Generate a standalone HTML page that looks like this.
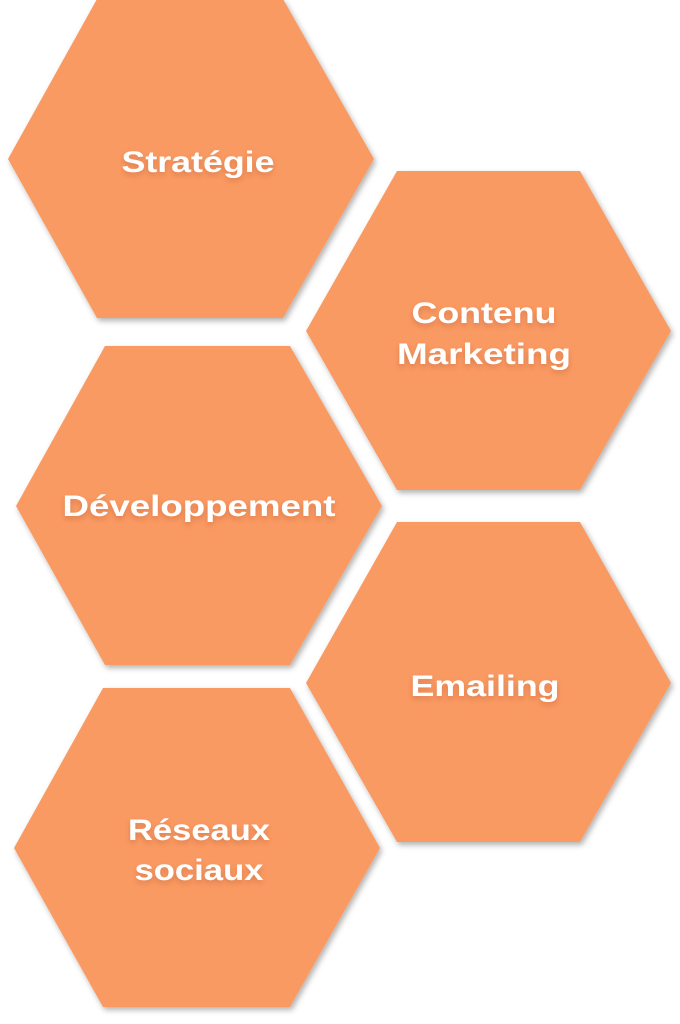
<!DOCTYPE html>
<html><head><meta charset="utf-8"><style>
html,body{margin:0;padding:0;background:#fff;width:680px;height:1024px;overflow:hidden}
svg text{font-family:"Liberation Sans",sans-serif;font-weight:bold;font-size:30px;fill:#fff;text-anchor:middle}
</style></head><body>
<svg width="680" height="1024" viewBox="0 0 680 1024" xmlns="http://www.w3.org/2000/svg">
<defs>
<filter id="s" x="-10%" y="-10%" width="120%" height="120%"><feDropShadow dx="2" dy="3" stdDeviation="3" flood-color="#000" flood-opacity="0.3"/></filter>
<filter id="t" x="-10%" y="-30%" width="120%" height="160%"><feDropShadow dx="0" dy="3" stdDeviation="3" flood-color="#b05020" flood-opacity="0.4"/></filter>
</defs>
<g fill="#FA9A63" filter="url(#s)">
<polygon points="97,-1 283,-1 374,159 283,318 97,318 8,159"/>
<polygon points="397,171 580,171 671,331 580,490 397,490 306,331"/>
<polygon points="105,346 290,346 382,506 290,665 105,665 16,506"/>
<polygon points="397,522 580,522 671,683 580,842 397,842 306,683"/>
<polygon points="103,688 290,688 380,848 290,1007 103,1007 14,848"/>
</g>
<g filter="url(#t)">
<text x="198" y="172" textLength="153" lengthAdjust="spacingAndGlyphs">Stratégie</text>
<text x="484" y="323" textLength="145" lengthAdjust="spacingAndGlyphs">Contenu</text>
<text x="484" y="364" textLength="174" lengthAdjust="spacingAndGlyphs">Marketing</text>
<text x="199" y="516" textLength="273" lengthAdjust="spacingAndGlyphs">Développement</text>
<text x="485" y="696" textLength="149" lengthAdjust="spacingAndGlyphs">Emailing</text>
<text x="199" y="840" textLength="142" lengthAdjust="spacingAndGlyphs">Réseaux</text>
<text x="199" y="880" textLength="129" lengthAdjust="spacingAndGlyphs">sociaux</text>
</g>
</svg>
</body></html>
